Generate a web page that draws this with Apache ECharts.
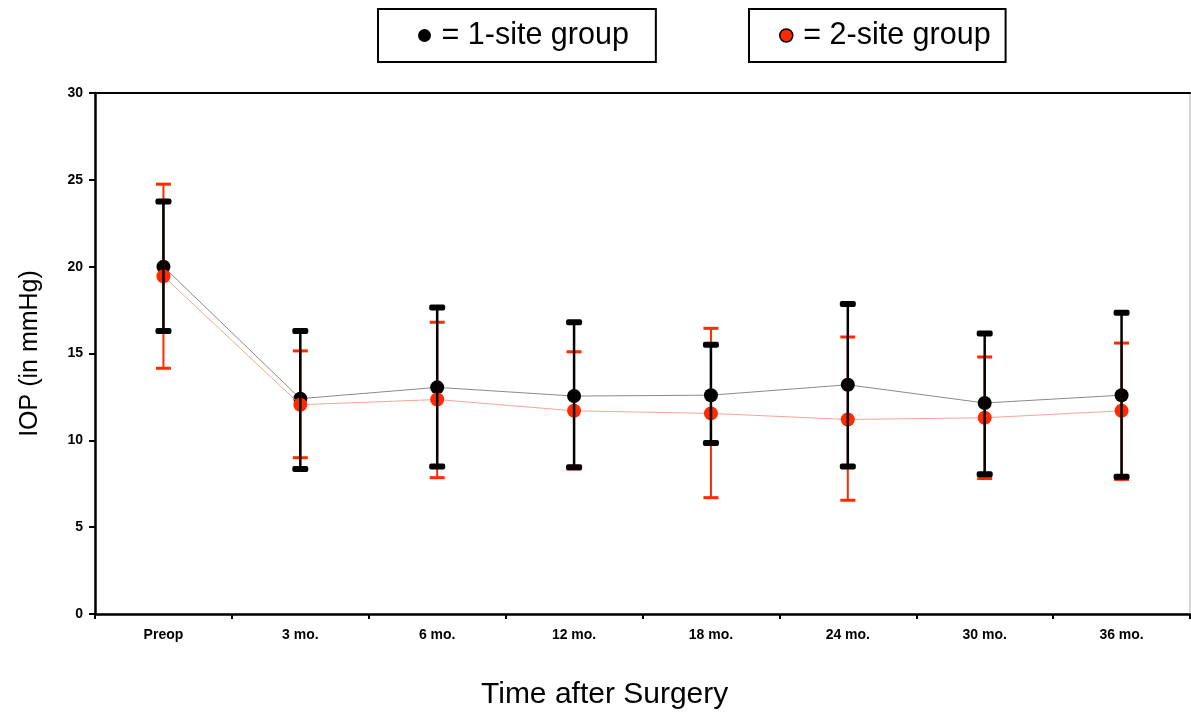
<!DOCTYPE html>
<html>
<head>
<meta charset="utf-8">
<script src="https://cdn.jsdelivr.net/npm/echarts@6/dist/echarts.min.js"></script>
<style>
html,body{margin:0;padding:0;background:#fff;}
#chart{width:1191px;height:713px;}
</style>
</head>
<body>
<div id="chart"></div>
<script>
var categories = ['Preop', '3 mo.', '6 mo.', '12 mo.', '18 mo.', '24 mo.', '30 mo.', '36 mo.'];
var yTicks = [0, 5, 10, 15, 20, 25, 30];
var oneSiteMean = [20.0, 12.4, 13.05, 12.55, 12.6, 13.2, 12.15, 12.6];
var oneSiteLow  = [16.3, 8.35, 8.5, 8.45, 9.85, 8.5, 8.05, 7.9];
var oneSiteHigh = [23.75, 16.3, 17.65, 16.8, 15.5, 17.85, 16.15, 17.35];
var twoSiteMean = [19.45, 12.05, 12.35, 11.7, 11.55, 11.2, 11.3, 11.7];
var twoSiteLow  = [14.15, 9.0, 7.85, 8.35, 6.7, 6.55, 7.8, 7.75];
var twoSiteHigh = [24.75, 15.15, 16.8, 15.1, 16.45, 15.95, 14.8, 15.6];

var FONT = 'Arial, "Liberation Sans", sans-serif';
var RED = '#ff2a00';

function errData(low, high) {
  return categories.map(function (c, i) { return [i, low[i], high[i]]; });
}
function errRenderer(color, lw, capW, capH, capR) {
  return function (params, api) {
    var x = api.value(0);
    var lo = api.coord([x, api.value(1)]);
    var hi = api.coord([x, api.value(2)]);
    var st = { stroke: color, lineWidth: lw };
    return {
      type: 'group',
      children: [
        { type: 'line', shape: { x1: lo[0], y1: lo[1], x2: hi[0], y2: hi[1] }, style: st },
        { type: 'rect', shape: { x: hi[0] - capW / 2, y: hi[1] - capH / 2, width: capW, height: capH, r: capR }, style: { fill: color } },
        { type: 'rect', shape: { x: lo[0] - capW / 2, y: lo[1] - capH / 2, width: capW, height: capH, r: capR }, style: { fill: color } }
      ]
    };
  };
}

var chart = echarts.init(document.getElementById('chart'));
chart.setOption({
  animation: false,
  backgroundColor: '#fff',
  title: {
    text: 'Time after Surgery',
    left: 476, top: 675,
    textStyle: { fontFamily: FONT, fontSize: 30, fontWeight: 'normal', color: '#000' }
  },
  legend: [
    {
      data: [{ name: '1-site group', itemStyle: { color: '#000' } }],
      left: 378, top: 9,
      orient: 'horizontal',
      icon: 'circle', itemWidth: 24, itemHeight: 13,
      padding: [11, 27, 11, 40],
      borderColor: '#000', borderWidth: 2, borderRadius: 0,
      formatter: function () { return '= 1-site group'; },
      textStyle: { fontFamily: FONT, fontSize: 30.5, color: '#000' }
    },
    {
      data: [{ name: '2-site group', itemStyle: { color: RED, borderColor: '#000', borderWidth: 1.5 } }],
      left: 749, top: 9,
      orient: 'horizontal',
      icon: 'circle', itemWidth: 24, itemHeight: 13,
      padding: [11, 15, 11, 30],
      borderColor: '#000', borderWidth: 2, borderRadius: 0,
      formatter: function () { return '= 2-site group'; },
      textStyle: { fontFamily: FONT, fontSize: 30.5, color: '#000' }
    }
  ],
  grid: {
    left: 95, right: 1, top: 93, bottom: 99,
    show: true, borderColor: '#aaa', borderWidth: 1, backgroundColor: '#fff'
  },
  xAxis: [
    {
      type: 'category', data: categories, boundaryGap: true,
      axisLine: { lineStyle: { color: '#000', width: 2.5 } },
      axisTick: { show: true, length: 5, alignWithLabel: false, lineStyle: { color: '#000', width: 2 } },
      axisLabel: { fontFamily: FONT, fontSize: 14, fontWeight: 'bold', color: '#000', margin: 14 },
      splitLine: { show: false }
    },
    {
      type: 'category', data: categories, position: 'top', boundaryGap: true,
      axisLine: { show: true, lineStyle: { color: '#000', width: 2 } },
      axisTick: { show: false }, axisLabel: { show: false }, splitLine: { show: false }
    }
  ],
  yAxis: {
    type: 'value', min: 0, max: 30, interval: 5,
    name: 'IOP (in mmHg)', nameLocation: 'middle', nameGap: 52, nameRotate: 90,
    nameTextStyle: { fontFamily: FONT, fontSize: 25, color: '#000' },
    axisLine: { show: true, lineStyle: { color: '#000', width: 2.5 } },
    axisTick: { show: true, length: 6, lineStyle: { color: '#000', width: 2 } },
    axisLabel: {
      fontFamily: FONT, fontSize: 14, fontWeight: 'bold', color: '#000', margin: 12,
      formatter: function (v) { return yTicks.indexOf(v) >= 0 ? String(v) : ''; }
    },
    splitLine: { show: false }
  },
  series: [
    {
      name: '1-site group', type: 'line', data: oneSiteMean,
      symbol: 'circle', symbolSize: 14, z: 3,
      itemStyle: { color: '#000' },
      lineStyle: { color: '#8a8a8a', width: 1 }
    },
    {
      name: '2-site group', type: 'line', data: twoSiteMean,
      symbol: 'circle', symbolSize: 14, z: 4,
      itemStyle: { color: RED },
      lineStyle: { color: '#f7a595', width: 1 }
    },
    {
      name: '2-site err', type: 'custom', data: errData(twoSiteLow, twoSiteHigh), z: 5,
      renderItem: errRenderer(RED, 2, 15, 3, 0)
    },
    {
      name: '1-site err', type: 'custom', data: errData(oneSiteLow, oneSiteHigh), z: 6,
      renderItem: errRenderer('#000', 2.5, 16, 6, 2)
    }
  ]
});
</script>
</body>
</html>
